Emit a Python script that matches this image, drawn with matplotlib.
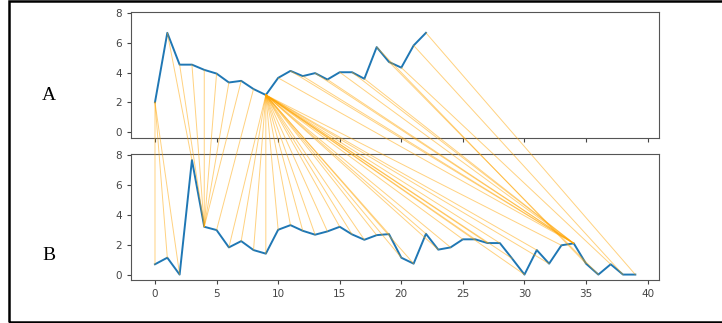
import matplotlib.pyplot as plt
from matplotlib.patches import ConnectionPatch, Rectangle

# the two series
a_vals = [2.0, 6.67, 4.53, 4.53, 4.18, 3.93, 3.33, 3.44, 2.89, 2.49, 3.64, 4.11,
          3.76, 3.96, 3.53, 4.02, 4.02, 3.58, 5.71, 4.71, 4.33, 5.82, 6.67]
b_vals = [0.69, 1.13, 0.0, 7.67, 3.2, 2.98, 1.82, 2.24, 1.64, 1.4, 3.0, 3.31,
          2.93, 2.67, 2.89, 3.2, 2.69, 2.33, 2.64, 2.71, 1.13, 0.73, 2.73, 1.67,
          1.82, 2.36, 2.36, 2.11, 2.11, 1.07, 0.0, 1.64, 0.73, 1.96, 2.09, 0.73,
          0.0, 0.69, 0.0, 0.0]

# warping path (index in A, index in B)
path_a = [0, 0, 0, 1, 2, 3, 4, 5, 6, 7, 8] + [9] * 28 + list(range(10, 18)) + [18, 19, 20, 21, 22]
path_b = [0, 1, 2, 3, 4, 4, 4, 4, 4, 4, 5] + list(range(6, 34)) + [34] * 8 + [35, 36, 37, 38, 39]

fig = plt.figure(figsize=(7.22, 3.23), dpi=100)
ax_a = fig.add_axes([0.1814, 0.5737, 0.7318, 0.3883])
ax_b = fig.add_axes([0.1814, 0.1322, 0.7318, 0.3901], sharex=ax_a, sharey=ax_a)
ax_a.plot(a_vals, lw=1.4)
ax_b.plot(b_vals, lw=1.4)
plt.setp(ax_a.get_xticklabels(), visible=False)
for ax in (ax_a, ax_b):
    ax.tick_params(labelsize=7.5, colors='#444444', length=3)
    for s in ax.spines.values():
        s.set_color('#555555')
ax_a.set_yticks([0, 2, 4, 6, 8])

# matching lines between the two axes
for i, j in zip(path_a, path_b):
    con = ConnectionPatch(xyA=(i, a_vals[i]), coordsA=ax_a.transData,
                          xyB=(j, b_vals[j]), coordsB=ax_b.transData,
                          color='orange', alpha=0.5, lw=0.7)
    fig.add_artist(con)

fig.text(0.068, 0.705, 'A', family='Liberation Serif', fontsize=14, ha='center', va='center')
fig.text(0.068, 0.21, 'B', family='Liberation Serif', fontsize=14, ha='center', va='center')

# black frame, open on the right
fig.add_artist(Rectangle((0.0127, 0.0037), 1.02, 0.9923, transform=fig.transFigure,
                         fill=False, ec='black', lw=1.8))

fig.savefig('out.png')
